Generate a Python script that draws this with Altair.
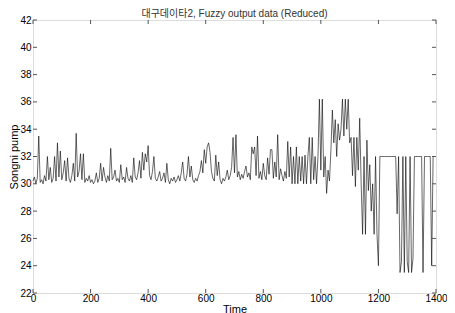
import altair as alt
import pandas as pd

TITLE = "대구데이타2, Fuzzy output data (Reduced)"
X_TITLE = "Time"
Y_TITLE = "Songni pump"
X_TICKS = [0, 200, 400, 600, 800, 1000, 1200, 1400]
Y_TICKS = [22, 24, 26, 28, 30, 32, 34, 36, 38, 40, 42]
T_STEP = 5

v_0000 = [30.2, 30.5, 30.0, 30.4, 33.5, 30.1, 30.3, 30.0, 30.6, 30.2,
          32.0, 30.3, 31.2, 30.1, 30.4, 32.0, 30.2, 33.0, 30.5, 32.4]
v_0100 = [30.3, 30.8, 31.7, 30.2, 31.9, 30.4, 30.1, 30.6, 31.5, 30.2,
          33.7, 30.5, 30.9, 32.2, 30.3, 32.2, 30.1, 30.4, 30.2, 30.6]
v_0200 = [30.1, 30.3, 30.0, 30.2, 30.8, 30.1, 30.4, 31.5, 30.2, 31.2,
          30.5, 30.1, 30.6, 30.2, 32.6, 30.3, 30.5, 31.0, 30.2, 30.4]
v_0300 = [30.1, 31.4, 30.3, 30.5, 30.1, 31.2, 30.4, 30.2, 30.6, 30.1,
          31.9, 30.5, 30.3, 30.8, 31.7, 30.4, 32.3, 31.0, 32.2, 31.6]
v_0400 = [32.8, 30.6, 30.3, 30.9, 32.0, 30.4, 30.2, 30.5, 30.9, 30.2,
          30.4, 30.8, 30.1, 31.5, 30.3, 30.0, 30.4, 30.2, 30.5, 30.1]
v_0500 = [30.3, 30.6, 30.2, 30.8, 31.6, 30.4, 30.2, 30.7, 32.0, 30.5,
          31.3, 30.3, 30.1, 30.4, 30.2, 30.6, 30.9, 31.7, 30.8, 32.5]
v_0600 = [31.5, 32.7, 33.0, 32.3, 30.9, 30.4, 30.2, 32.1, 30.6, 31.6,
          30.3, 30.0, 30.4, 30.2, 30.5, 31.0, 30.3, 30.6, 31.2, 33.4]
v_0700 = [30.8, 33.6, 30.5, 30.9, 30.3, 30.7, 30.4, 30.9, 31.3, 30.5,
          30.8, 30.3, 32.7, 32.2, 32.7, 30.6, 33.5, 30.4, 30.9, 30.3]
v_0800 = [31.5, 30.6, 30.3, 31.9, 30.7, 32.5, 32.5, 30.4, 31.6, 30.5,
          33.6, 30.3, 31.1, 30.6, 30.2, 30.9, 30.4, 33.1, 30.5, 32.7]
v_0900 = [30.0, 32.0, 30.0, 32.7, 30.0, 32.0, 30.2, 32.0, 30.0, 32.1,
          30.0, 32.0, 33.4, 30.0, 33.4, 30.3, 32.0, 30.0, 32.0, 36.2]
v_1000 = [31.0, 36.2, 30.5, 32.0, 29.3, 31.0, 30.2, 32.5, 35.4, 33.0,
          34.7, 32.0, 34.4, 33.2, 34.0, 36.2, 33.5, 36.2, 34.0, 36.2]
v_1100 = [33.0, 33.4, 30.6, 33.4, 29.8, 33.4, 31.0, 34.8, 30.0, 26.3,
          32.0, 26.3, 33.2, 29.5, 31.4, 28.0, 30.0, 26.3, 32.0, 26.3]
v_1200 = [24.0, 32.0, 32.0, 32.0, 32.0, 32.0, 32.0, 32.0, 32.0, 32.0,
          32.0, 32.0, 32.0, 27.8, 32.0, 23.5, 24.3, 32.0, 23.5, 32.0]
v_1300 = [24.3, 23.5, 32.0, 23.5, 24.5, 32.0, 32.0, 32.0, 32.0, 32.0,
          32.0, 23.5, 32.0, 32.0, 32.0, 32.0, 32.0, 24.0, 32.0, 32.0]
v_1400 = [32.0]

values = (v_0000 + v_0100 + v_0200 + v_0300 + v_0400 + v_0500 + v_0600 +
          v_0700 + v_0800 + v_0900 + v_1000 + v_1100 + v_1200 + v_1300 + v_1400)
times = [i * T_STEP for i in range(len(values))]

df = pd.DataFrame({"t": times, "v": values})
xt = pd.DataFrame({"t": X_TICKS})
yt = pd.DataFrame({"v": Y_TICKS})

W, H = 403, 273
FONT = "Liberation Sans, Arial, Noto Sans CJK KR, sans-serif"
AX = "#555555"
TL = 4

xscale = alt.Scale(domain=[0, 1400], nice=False, zero=False)
yscale = alt.Scale(domain=[22, 42], nice=False, zero=False)

x_axis = alt.Axis(values=X_TICKS, ticks=False, domain=False, grid=False,
                  labelPadding=0, titlePadding=0, format="d",
                  labelFlush=False, labelOverlap=False, titleFontWeight="normal")
y_axis = alt.Axis(values=Y_TICKS, ticks=False, domain=False, grid=False,
                  labelPadding=2, titlePadding=0, format="d",
                  labelFlush=False, labelOverlap=False, titleFontWeight="normal")


def xenc():
    return alt.X("t:Q", scale=xscale, title=X_TITLE, axis=x_axis)


def yenc():
    return alt.Y("v:Q", scale=yscale, title=Y_TITLE, axis=y_axis)


line = alt.Chart(df).mark_line(color="#000000", strokeWidth=0.6).encode(
    x=xenc(), y=yenc())

tick_b = alt.Chart(xt).mark_rule(color=AX, strokeWidth=1).encode(
    x=xenc(), y=alt.value(H), y2=alt.value(H - TL))
tick_t = alt.Chart(xt).mark_rule(color=AX, strokeWidth=1).encode(
    x=xenc(), y=alt.value(0), y2=alt.value(TL))
tick_l = alt.Chart(yt).mark_rule(color=AX, strokeWidth=1).encode(
    y=yenc(), x=alt.value(0), x2=alt.value(TL))
tick_r = alt.Chart(yt).mark_rule(color=AX, strokeWidth=1).encode(
    y=yenc(), x=alt.value(W), x2=alt.value(W - TL))

chart = alt.layer(line, tick_b, tick_t, tick_l, tick_r).properties(
    width=W, height=H,
    title=alt.TitleParams(TITLE, fontSize=10, font=FONT, fontWeight="normal",
                          color="#333333", offset=2, anchor="middle", frame="group",
                          dy=6),
    autosize=alt.AutoSizeParams(type="none"),
    padding={"left": 25, "top": 12, "right": 11, "bottom": 20},
).configure_view(
    stroke=AX, strokeWidth=1
).configure_axis(
    labelFont=FONT, labelFontSize=9, labelColor="#222222",
    titleFont=FONT, titleFontSize=9, titleColor="#222222", titleFontWeight="normal",
).configure(background="white")

chart.save("out.html", embed_options={"renderer": "svg", "actions": False})
